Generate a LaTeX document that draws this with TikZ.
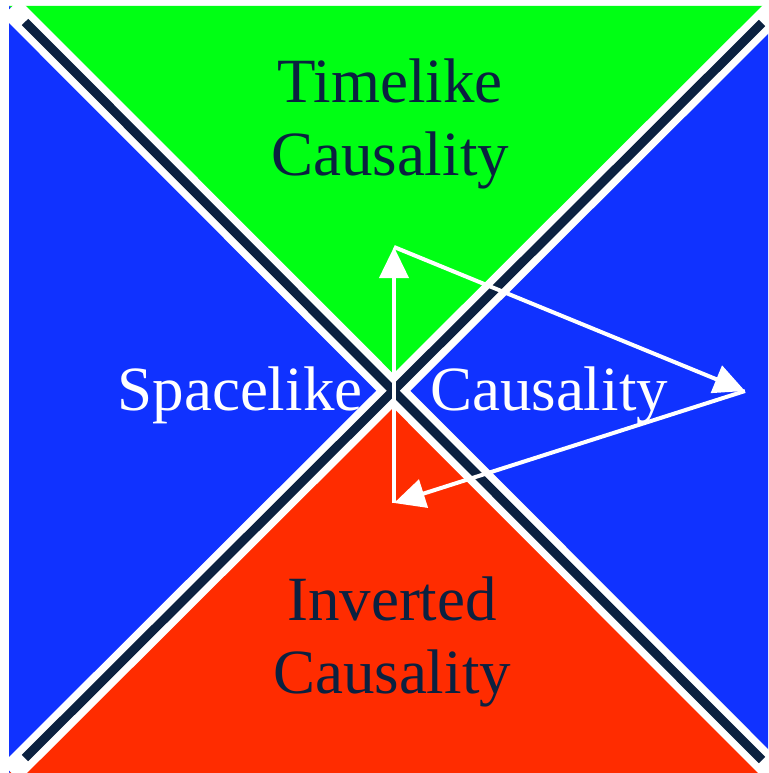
\documentclass[tikz,border=0pt]{standalone}
\usepackage{fontspec}
\setmainfont{Liberation Serif}
\definecolor{ConeGreen}{HTML}{00FF14}
\definecolor{ConeBlue}{HTML}{1032FF}
\definecolor{ConeRed}{HTML}{FF2C00}
\definecolor{ConeNavy}{HTML}{0B2140}
\usetikzlibrary{arrows.meta}
\tikzset{
    % White band with a dark core along the light cone
    cone band/.style={
        draw=white,
        line width=24pt,
        shorten <=-20pt,
        shorten >=-20pt
    },
    cone core/.style={
        draw=ConeNavy,
        line width=9pt
    },
    region label/.style={
        font=\fontsize{63}{73}\selectfont,
        align=center,
        anchor=base,
        inner sep=0pt
    },
    arrow/.style={
        -{Triangle[length=31pt,width=29pt]},
        line width=4pt,
        draw=white
    }
}

\begin{document}
\begin{tikzpicture}[x=1pt,y=-1pt]
        \useasboundingbox (0,0) rectangle (768,773);

        % Corners and centre
        \coordinate (nw) at (9,6);
        \coordinate (ne) at (768,6);
        \coordinate (se) at (768,773);
        \coordinate (sw) at (9,773);
        \coordinate (centre) at (393,390);

        % Regions
        \fill[ConeGreen] (nw) -- (ne) -- (centre) -- cycle;
        \fill[ConeRed] (sw) -- (se) -- (centre) -- cycle;
        \fill[ConeBlue] (nw) -- (sw) -- (centre) -- cycle;
        \fill[ConeBlue] (ne) -- (se) -- (centre) -- cycle;

        % Light cone lines
        \coordinate (d1a) at (25,22);
        \coordinate (d1b) at (762,760);
        \coordinate (d2a) at (25,758);
        \coordinate (d2b) at (762,23);
        \draw[cone band] (d1a) -- (d1b);
        \draw[cone band] (d2a) -- (d2b);
        \draw[cone core] (d1a) -- (d1b);
        \draw[cone core] (d2a) -- (d2b);

        % Labels (base is the last line)
        \node[region label, text=ConeNavy] (timelike) at (390,175) {Timelike\\Causality};
        \node[region label, text=white] (spacelike) at (240,410) {Spacelike};
        \node[region label, text=white] (causality) at (549,410) {Causality};
        \node[region label, text=ConeNavy] (inverted) at (392,693) {Inverted\\Causality};

        % Signal loop
        \coordinate (low) at (394,503);
        \coordinate (high) at (394,247);
        \coordinate (far) at (745,391);
        \draw[arrow] (low) -- (high);
        \draw[arrow] (high) -- (far);
        \draw[arrow] (far) -- (low);
    \end{tikzpicture}
\end{document}
